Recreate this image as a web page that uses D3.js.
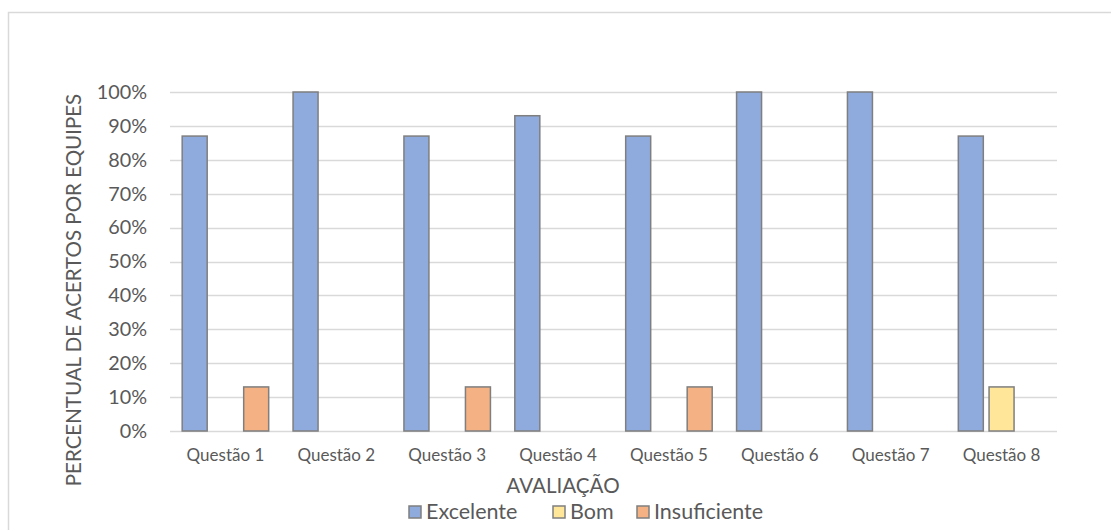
<!DOCTYPE html>
<html>
<head>
<meta charset="utf-8">
<script src="https://cdn.jsdelivr.net/npm/d3@7"></script>
<style>
  body { margin: 0; background: #fff; }
  text { font-family: Lato, "Open Sans", sans-serif; fill: #595959; }
</style>
</head>
<body>
<svg id="chart"></svg>
<script>
// chart data
const categories = ["Questão 1", "Questão 2", "Questão 3", "Questão 4", "Questão 5", "Questão 6", "Questão 7", "Questão 8"];
const seriesNames = ["Excelente", "Bom", "Insuficiente"];
const excelente = [0.87, 1.00, 0.87, 0.93, 0.87, 1.00, 1.00, 0.87];
const bom = [0, 0, 0, 0, 0, 0, 0, 0.13];
const insuficiente = [0.13, 0, 0.13, 0, 0.13, 0, 0, 0];
const yTicks = [0, 0.1, 0.2, 0.3, 0.4, 0.5, 0.6, 0.7, 0.8, 0.9, 1.0];
const colors = ["#8faadc", "#ffe699", "#f4b183"];

const width = 1111, height = 530;
const margin = {top: 92, right: 54, bottom: 99, left: 170};

const svg = d3.select("#chart")
  .attr("width", width)
  .attr("height", height);

// outer chart border (only top and left visible in frame)
svg.append("rect")
  .attr("x", 8.5).attr("y", 12.5)
  .attr("width", width + 20).attr("height", height + 20)
  .attr("fill", "none")
  .attr("stroke", "#d9d9d9")
  .attr("stroke-width", 1.5);

const x = d3.scaleBand()
  .domain(categories)
  .range([margin.left, width - margin.right])
  .paddingInner(0).paddingOuter(0);

const y = d3.scaleLinear()
  .domain([0, 1])
  .range([height - margin.bottom, margin.top]);

const xSub = d3.scaleBand()
  .domain(seriesNames)
  .range([-43.25, 43.25])
  .paddingInner(0.187).paddingOuter(0);

// gridlines
svg.append("g")
  .selectAll("line")
  .data(yTicks)
  .enter().append("line")
  .attr("x1", margin.left)
  .attr("x2", width - margin.right)
  .attr("y1", d => Math.round(y(d)) + 0.5)
  .attr("y2", d => Math.round(y(d)) + 0.5)
  .attr("stroke", "#d9d9d9")
  .attr("stroke-width", 1.5);

// y axis labels
const yAxis = d3.axisLeft(y)
  .tickValues(yTicks)
  .tickFormat(d3.format(".0%"))
  .tickSize(0)
  .tickPadding(23);

svg.append("g")
  .attr("transform", "translate(" + margin.left + ",0)")
  .call(yAxis)
  .call(g => g.select(".domain").remove())
  .call(g => g.selectAll("text").attr("font-size", 19.8).attr("fill", "#595959"));

// x axis labels
const xAxis = d3.axisBottom(x).tickSize(0).tickPadding(18);

svg.append("g")
  .attr("transform", "translate(0," + y(0) + ")")
  .call(xAxis)
  .call(g => g.select(".domain").remove())
  .call(g => g.selectAll("text").attr("font-size", 17).attr("fill", "#595959"));

// bars
const rows = categories.map((c, i) => ({
  cat: c,
  values: [excelente[i], bom[i], insuficiente[i]]
}));

const groups = svg.append("g")
  .selectAll("g")
  .data(rows)
  .enter().append("g")
  .attr("transform", d => "translate(" + (x(d.cat) + x.bandwidth() / 2) + ",0)");

groups.selectAll("rect")
  .data(d => d.values.map((v, j) => ({name: seriesNames[j], value: v, color: colors[j]})).filter(d => d.value > 0))
  .enter().append("rect")
  .attr("x", d => xSub(d.name))
  .attr("width", xSub.bandwidth())
  .attr("y", d => y(d.value))
  .attr("height", d => y(0) - y(d.value))
  .attr("fill", d => d.color)
  .attr("stroke", "#7f7f7f")
  .attr("stroke-width", 1.5);

// axis titles
svg.append("text")
  .attr("x", 563)
  .attr("y", 493)
  .attr("text-anchor", "middle")
  .attr("font-size", 20.6)
  .text("AVALIAÇÃO");

svg.append("text")
  .attr("transform", "translate(81,290) rotate(-90)")
  .attr("text-anchor", "middle")
  .attr("font-size", 20.5)
  .text("PERCENTUAL DE ACERTOS POR EQUIPES");

// legend
const legendX = [409, 553, 637];
const legend = svg.append("g")
  .selectAll("g")
  .data(seriesNames)
  .enter().append("g")
  .attr("transform", (d, i) => "translate(" + legendX[i] + ",506)");

legend.append("rect")
  .attr("width", 12).attr("height", 12)
  .attr("fill", (d, i) => colors[i])
  .attr("stroke", "#7f7f7f")
  .attr("stroke-width", 1.5);

legend.append("text")
  .attr("x", 17)
  .attr("y", 13)
  .attr("font-size", 21.5)
  .text(d => d);
</script>
</body>
</html>
